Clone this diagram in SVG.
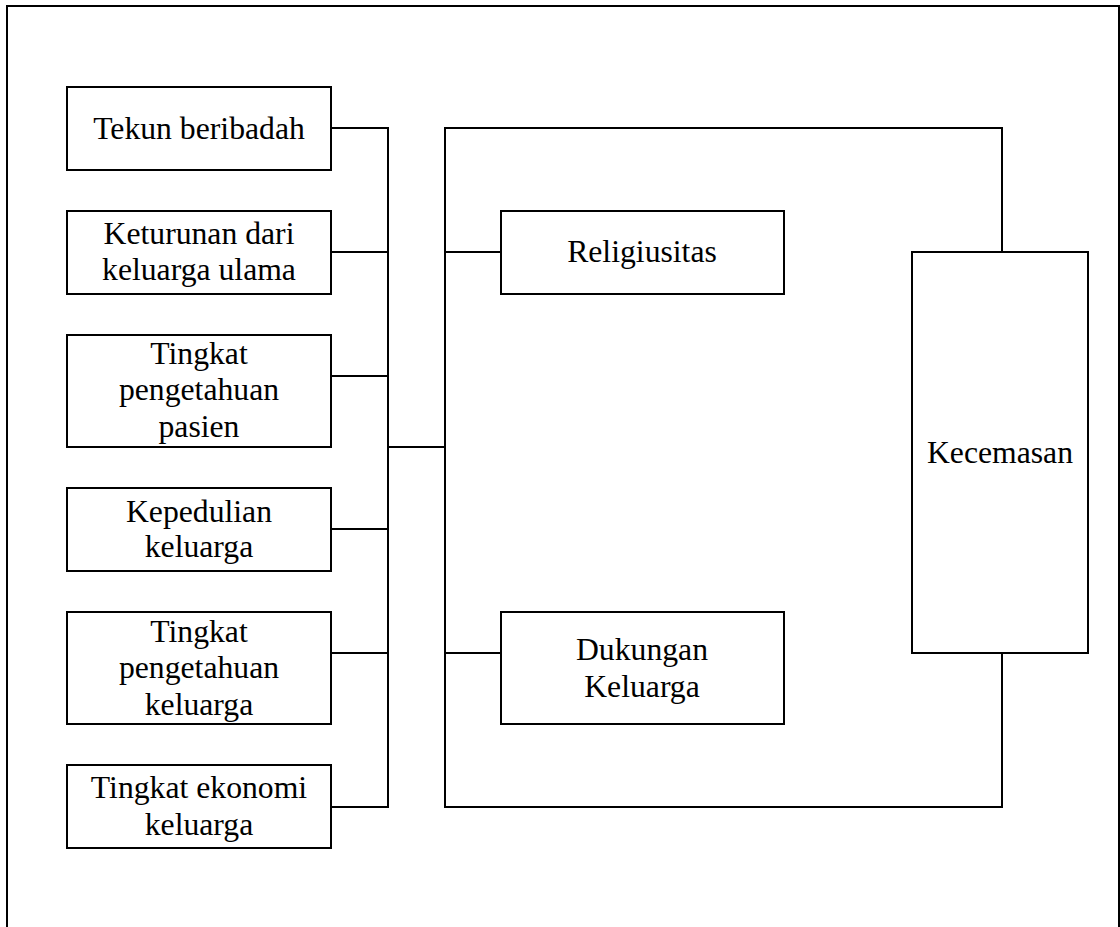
<svg xmlns="http://www.w3.org/2000/svg" width="1120" height="927" viewBox="0 0 1120 927">
<style>
.box{fill:#fff;stroke:#000;stroke-width:2}
.ln{fill:none;stroke:#000;stroke-width:2}
text{font-family:"Liberation Serif","Times New Roman",serif;font-size:31.7px;fill:#000;text-anchor:middle}
</style>
<rect width="1120" height="927" fill="#fff"/>
<path class="ln" d="M7,927 V6 H1119 V927"/>
<g id="connectors">
<path class="ln" d="M331,128 H388 M331,252 H388 M331,376 H388 M331,529 H388 M331,653 H388 M331,807 H388 M388,127 V808"/>
<path class="ln" d="M388,447 H445"/>
<path class="ln" d="M1002,252 V128 H445 V807 H1002 V653"/>
<path class="ln" d="M445,252 H501 M445,653 H501"/>
</g>
<g id="tekun"><rect class="box" x="67" y="87" width="264" height="83"/><text x="199" y="139">Tekun beribadah</text></g>
<g id="keturunan"><rect class="box" x="67" y="211" width="264" height="83"/><text x="199" y="244">Keturunan dari</text><text x="199" y="280">keluarga ulama</text></g>
<g id="pengetahuan-pasien"><rect class="box" x="67" y="335" width="264" height="112"/><text x="199" y="364">Tingkat</text><text x="199" y="400">pengetahuan</text><text x="199" y="437">pasien</text></g>
<g id="kepedulian"><rect class="box" x="67" y="488" width="264" height="83"/><text x="199" y="522">Kepedulian</text><text x="199" y="557">keluarga</text></g>
<g id="pengetahuan-keluarga"><rect class="box" x="67" y="612" width="264" height="112"/><text x="199" y="642">Tingkat</text><text x="199" y="678">pengetahuan</text><text x="199" y="715">keluarga</text></g>
<g id="ekonomi"><rect class="box" x="67" y="765" width="264" height="83"/><text x="199" y="798">Tingkat ekonomi</text><text x="199" y="835">keluarga</text></g>
<g id="religiusitas"><rect class="box" x="501" y="211" width="283" height="83"/><text x="642" y="262">Religiusitas</text></g>
<g id="dukungan"><rect class="box" x="501" y="612" width="283" height="112"/><text x="642" y="660">Dukungan</text><text x="642" y="697">Keluarga</text></g>
<g id="kecemasan"><rect class="box" x="912" y="252" width="176" height="401"/><text x="1000" y="463">Kecemasan</text></g>
</svg>
